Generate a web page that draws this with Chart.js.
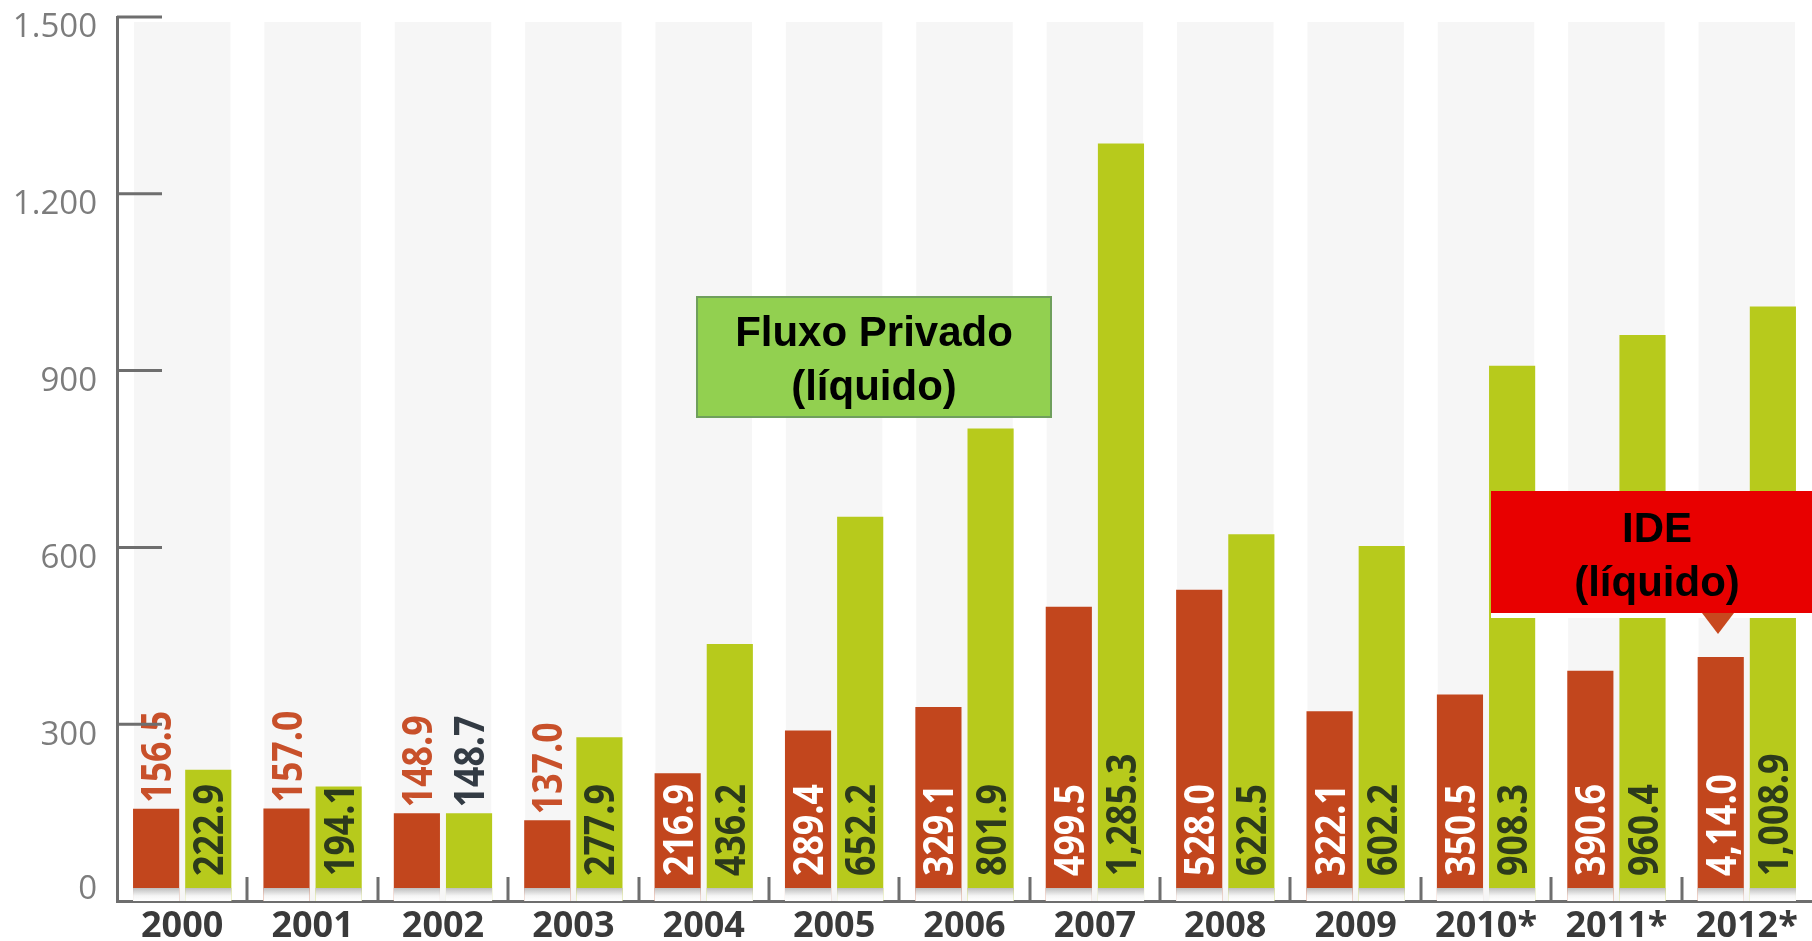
<!DOCTYPE html>
<html>
<head>
<meta charset="utf-8">
<script src="https://cdn.jsdelivr.net/npm/chart.js@4.4.1/dist/chart.umd.min.js"></script>
<style>
	html, body { margin: 0; padding: 0; background: #fff; overflow: hidden; }
	#wrap { width: 1812px; height: 941px; }
</style>
</head>
<body>
<div id="wrap"><canvas id="chart" width="1812" height="941"></canvas></div>
<script>
const years = ['2000', '2001', '2002', '2003', '2004', '2005', '2006', '2007', '2008', '2009', '2010*', '2011*', '2012*'];
const ide = [156.5, 157.0, 148.9, 137.0, 216.9, 289.4, 329.1, 499.5, 528.0, 322.1, 350.5, 390.6, 414.0];
const fluxo = [222.9, 194.1, 148.7, 277.9, 436.2, 652.2, 801.9, 1285.3, 622.5, 602.2, 908.3, 960.4, 1008.9];
// labels as printed on the bars (including the "4,14.0" typo)
const ideLabels = ['156.5', '157.0', '148.9', '137.0', '216.9', '289.4', '329.1', '499.5', '528.0', '322.1', '350.5', '390.6', '4,14.0'];
const fluxoLabels = ['222.9', '194.1', '148.7', '277.9', '436.2', '652.2', '801.9', '1,285.3', '622.5', '602.2', '908.3', '960.4', '1,008.9'];
const yTicks = [0, 300, 600, 900, 1200, 1500];

const RED = '#c2461d';
const GREEN = '#b7ca1c';
const AXIS = '#6e6e6e';
const TICK_COLOR = '#7c7c7c';
const TICK_FONT = '33px "Open Sans"';

function fmtThousands(v) {
	return String(v).replace(/\B(?=(\d{3})+(?!\d))/g, '.');
}

// light grey column behind each year
const bandsPlugin = {
	id: 'bands',
	beforeDatasetsDraw(chart) {
		const {ctx, scales: {x, y}} = chart;
		const cw = (x.right - x.left) / years.length;
		const y0 = y.getPixelForValue(0);
		ctx.save();
		ctx.fillStyle = '#f6f6f6';
		for (let i = 0; i < years.length; i++) {
			const cx = x.getPixelForValue(i);
			ctx.fillRect(cx - cw * 0.37, chart.chartArea.top + 5, cw * 0.74, y0 - chart.chartArea.top - 5);
		}
		ctx.restore();
	}
};

// bar base shadow + rotated value labels
const labelsPlugin = {
	id: 'barLabels',
	afterDatasetsDraw(chart) {
		const {ctx} = chart;
		const sets = [
			{meta: chart.getDatasetMeta(0), labels: ideLabels, inside: '#ffffff', outside: '#c8502a'},
			{meta: chart.getDatasetMeta(1), labels: fluxoLabels, inside: '#2c3a1c', outside: '#333b44'},
		];
		ctx.save();
		for (const s of sets) {
			s.meta.data.forEach((bar) => {
				const w = bar.width;
				const g = ctx.createLinearGradient(0, bar.base - 13, 0, bar.base);
				g.addColorStop(0, 'rgba(190,190,190,1)');
				g.addColorStop(0.6, 'rgba(245,245,245,1)');
				g.addColorStop(1, 'rgba(255,255,255,1)');
				ctx.fillStyle = g;
				ctx.fillRect(bar.x - w / 2, bar.base - 13, w, 13);
			});
		}
		ctx.font = 'bold 42px "Open Sans"';
		const sx = 0.85;
		for (const s of sets) {
			s.meta.data.forEach((bar, i) => {
				const text = s.labels[i];
				const len = ctx.measureText(text).width * sx;
				const h = bar.base - bar.y;
				let start, color;
				if (len + 20 < h) {
					start = bar.base - 25;
					color = s.inside;
				} else {
					start = bar.y - 6;
					color = s.outside;
				}
				ctx.save();
				ctx.translate(bar.x, start);
				ctx.rotate(-Math.PI / 2);
				ctx.scale(sx, 1);
				ctx.fillStyle = color;
				ctx.textAlign = 'left';
				ctx.textBaseline = 'alphabetic';
				ctx.fillText(text, 0, 15);
				ctx.restore();
			});
		}
		ctx.restore();
	}
};

// inward tick marks on both axes, and the "0" label that sits above the axis
const ticksPlugin = {
	id: 'innerTicks',
	afterDraw(chart) {
		const {ctx, scales: {x, y}} = chart;
		const y0 = y.getPixelForValue(0);
		const cw = (x.right - x.left) / years.length;
		ctx.save();
		ctx.strokeStyle = AXIS;
		ctx.lineWidth = 3;
		ctx.beginPath();
		for (const v of yTicks) {
			if (v === 0) continue;
			const py = y.getPixelForValue(v);
			ctx.moveTo(x.left, py);
			ctx.lineTo(x.left + 45, py);
		}
		for (let i = 1; i < years.length; i++) {
			const px = Math.round(x.left + cw * i);
			ctx.moveTo(px, y0);
			ctx.lineTo(px, y0 - 24);
		}
		ctx.stroke();
		ctx.fillStyle = TICK_COLOR;
		ctx.font = TICK_FONT;
		ctx.textAlign = 'right';
		ctx.textBaseline = 'middle';
		ctx.fillText(fmtThousands(0), x.left - 20, y0 - 11);
		ctx.restore();
	}
};

// the two text callouts
const calloutPlugin = {
	id: 'callouts',
	afterDraw(chart) {
		const {ctx} = chart;
		ctx.save();
		// green box
		ctx.fillStyle = '#92d050';
		ctx.fillRect(697, 297, 354, 120);
		ctx.strokeStyle = '#6f9f5c';
		ctx.lineWidth = 2;
		ctx.strokeRect(697, 297, 354, 120);
		ctx.fillStyle = '#000';
		ctx.font = 'bold 42px "Liberation Sans"';
		ctx.textAlign = 'center';
		ctx.textBaseline = 'middle';
		ctx.fillText('Fluxo Privado', 874, 334);
		ctx.fillText('(líquido)', 874, 388);

		// red box with pointer
		ctx.fillStyle = '#ffffff';
		ctx.fillRect(1491, 613, 330, 5);
		ctx.fillStyle = '#e80000';
		ctx.fillRect(1491, 491, 330, 122);
		ctx.fillStyle = '#c8481e';
		ctx.beginPath();
		ctx.moveTo(1702, 613);
		ctx.lineTo(1734, 613);
		ctx.lineTo(1718, 634);
		ctx.closePath();
		ctx.fill();
		ctx.fillStyle = '#000';
		ctx.fillText('IDE', 1657, 530);
		ctx.fillText('(líquido)', 1657, 584);
		ctx.restore();
	}
};

new Chart(document.getElementById('chart'), {
	type: 'bar',
	data: {
		labels: years,
		datasets: [
			{
				label: 'IDE (líquido)',
				data: ide,
				backgroundColor: RED,
				categoryPercentage: 0.8,
				barPercentage: 0.885,
			},
			{
				label: 'Fluxo Privado (líquido)',
				data: fluxo,
				backgroundColor: GREEN,
				categoryPercentage: 0.8,
				barPercentage: 0.885,
			},
		],
	},
	options: {
		responsive: false,
		animation: false,
		devicePixelRatio: 1,
		layout: {padding: {top: 17, right: 0, bottom: 0, left: 0}},
		plugins: {
			legend: {display: false},
			tooltip: {enabled: false},
		},
		scales: {
			x: {
				grid: {display: false, drawTicks: false},
				border: {color: AXIS, width: 3},
				afterFit: (s) => { s.height = 40; },
				ticks: {
					padding: 8,
					color: '#3a3a3a',
					font: {family: '"Open Sans"', size: 36, weight: 'bold', lineHeight: 1},
					maxRotation: 0,
					autoSkip: false,
				},
			},
			y: {
				min: 0,
				max: 1500,
				grid: {display: false, drawTicks: false},
				border: {color: AXIS, width: 3},
				afterFit: (s) => { s.width = 117; s.paddingTop = 0; s.paddingBottom = 0; },
				afterBuildTicks: (s) => { s.ticks = yTicks.map(v => ({value: v})); },
				ticks: {
					padding: 20,
					labelOffset: 11,
					color: TICK_COLOR,
					font: {family: '"Open Sans"', size: 33, lineHeight: 1},
					callback: (v) => (v === 0 ? '' : fmtThousands(v)),
				},
			},
		},
	},
	plugins: [bandsPlugin, labelsPlugin, ticksPlugin, calloutPlugin],
});
</script>
</body>
</html>
